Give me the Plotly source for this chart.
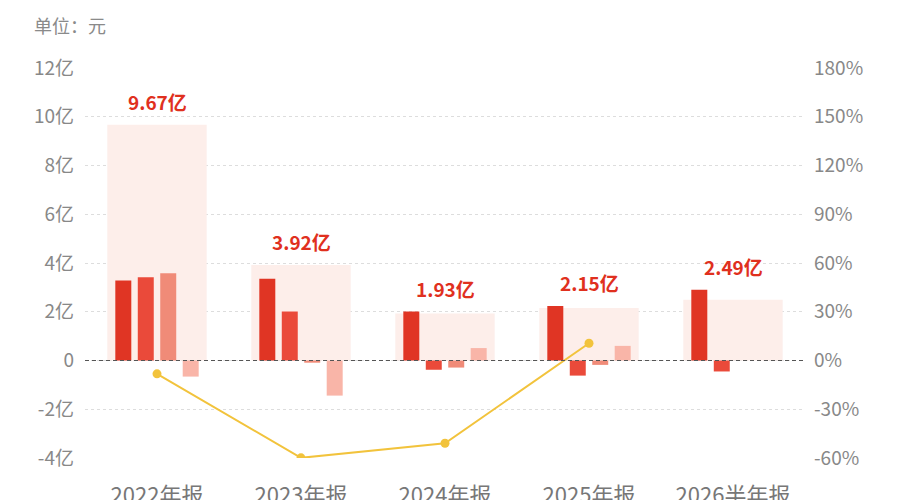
import plotly.graph_objects as go

# data (亿元 / %)
periods = ['2022年报', '2023年报', '2024年报', '2025年报', '2026半年报']
totals = [9.67, 3.92, 1.93, 2.15, 2.49]
total_labels = ['9.67亿', '3.92亿', '1.93亿', '2.15亿', '2.49亿']
series_a = [3.28, 3.35, 2.01, 2.24, 2.90]
series_b = [3.42, 2.01, -0.38, -0.62, -0.45]
series_c = [3.58, -0.09, -0.29, -0.18, None]
series_d = [-0.66, -1.44, 0.51, 0.60, None]
growth_pct = [-8.2, -59.9, -50.9, 10.6, None]

left_ticks = [-4, -2, 0, 2, 4, 6, 8, 10, 12]
left_tick_text = ['-4亿', '-2亿', '0', '2亿', '4亿', '6亿', '8亿', '10亿', '12亿']
right_ticks = [-60, -30, 0, 30, 60, 90, 120, 150, 180]
right_tick_text = ['-60%', '-30%', '0%', '30%', '60%', '90%', '120%', '150%', '180%']

FONT = 'Noto Sans CJK SC'
bar_colors = ['#e03524', '#ea4a3a', '#f08b78', '#f9b5a8']

# page body has an 8px margin, so the figure is a bit smaller than the window
W, H = 892, 492
ML, MR, MT, MB = 77, 95, 60, 42
plot_w = W - ML - MR
plot_h = H - MT - MB

fig = go.Figure()

# light background bar showing the total
fig.add_trace(go.Bar(x=periods, y=totals, width=0.69, marker_color='#fdeeea',
                     marker_line_width=0, hoverinfo='skip', showlegend=False))

bw = 0.111
slot = 0.156
for i, vals in enumerate([series_a, series_b, series_c, series_d]):
    fig.add_trace(go.Bar(x=periods, y=vals, width=bw, offset=(i - 1.5) * slot - bw / 2,
                         marker_color=bar_colors[i], marker_line_width=0, showlegend=False))

fig.add_trace(go.Scatter(x=periods, y=growth_pct, yaxis='y2', mode='lines+markers',
                         line=dict(color='#f2c33c', width=2), marker=dict(size=9, color='#f2c33c'),
                         connectgaps=False, showlegend=False))

# total labels sit above the tallest mark of each period
for p, t, lab, a in zip(periods, totals, total_labels, series_a):
    fig.add_annotation(x=p, y=max(t, a), text=lab, showarrow=False, yshift=23,
                       font=dict(family=FONT, size=19, color='#e0301e', weight='bold'))

fig.add_annotation(xref='x domain', yref='y domain', x=-53 / plot_w, y=1 + 43 / plot_h,
                   text='单位：元', showarrow=False, xanchor='left', yanchor='middle',
                   font=dict(family=FONT, size=18, color='#8a8a8a'))

fig.add_hline(y=0, line=dict(color='#555555', width=1, dash='4px,3px'), layer='above')

fig.update_layout(
    width=W, height=H,
    margin=dict(l=ML, r=MR, t=MT, b=MB),
    paper_bgcolor='white', plot_bgcolor='white',
    barmode='overlay',
    font=dict(family=FONT, color='#888888'),
    xaxis=dict(range=[-0.5, 4.5], showgrid=False, showline=False, ticks='', automargin=False,
               tickfont=dict(size=22, color='#777777'), ticklabelstandoff=22),
    yaxis=dict(range=[-4, 12], tickvals=left_ticks, ticktext=left_tick_text,
               showgrid=True, gridcolor='#dddddd', griddash='3px,3px', gridwidth=1,
               zeroline=False, showline=False, ticklabelstandoff=10, automargin=False,
               tickfont=dict(size=19, color='#888888')),
    yaxis2=dict(range=[-60, 180], tickvals=right_ticks, ticktext=right_tick_text,
                overlaying='y', side='right', showgrid=False, zeroline=False,
                showline=False, ticklabelstandoff=8, automargin=False,
                tickfont=dict(size=19, color='#888888')),
)

fig.write_html('out.html')
